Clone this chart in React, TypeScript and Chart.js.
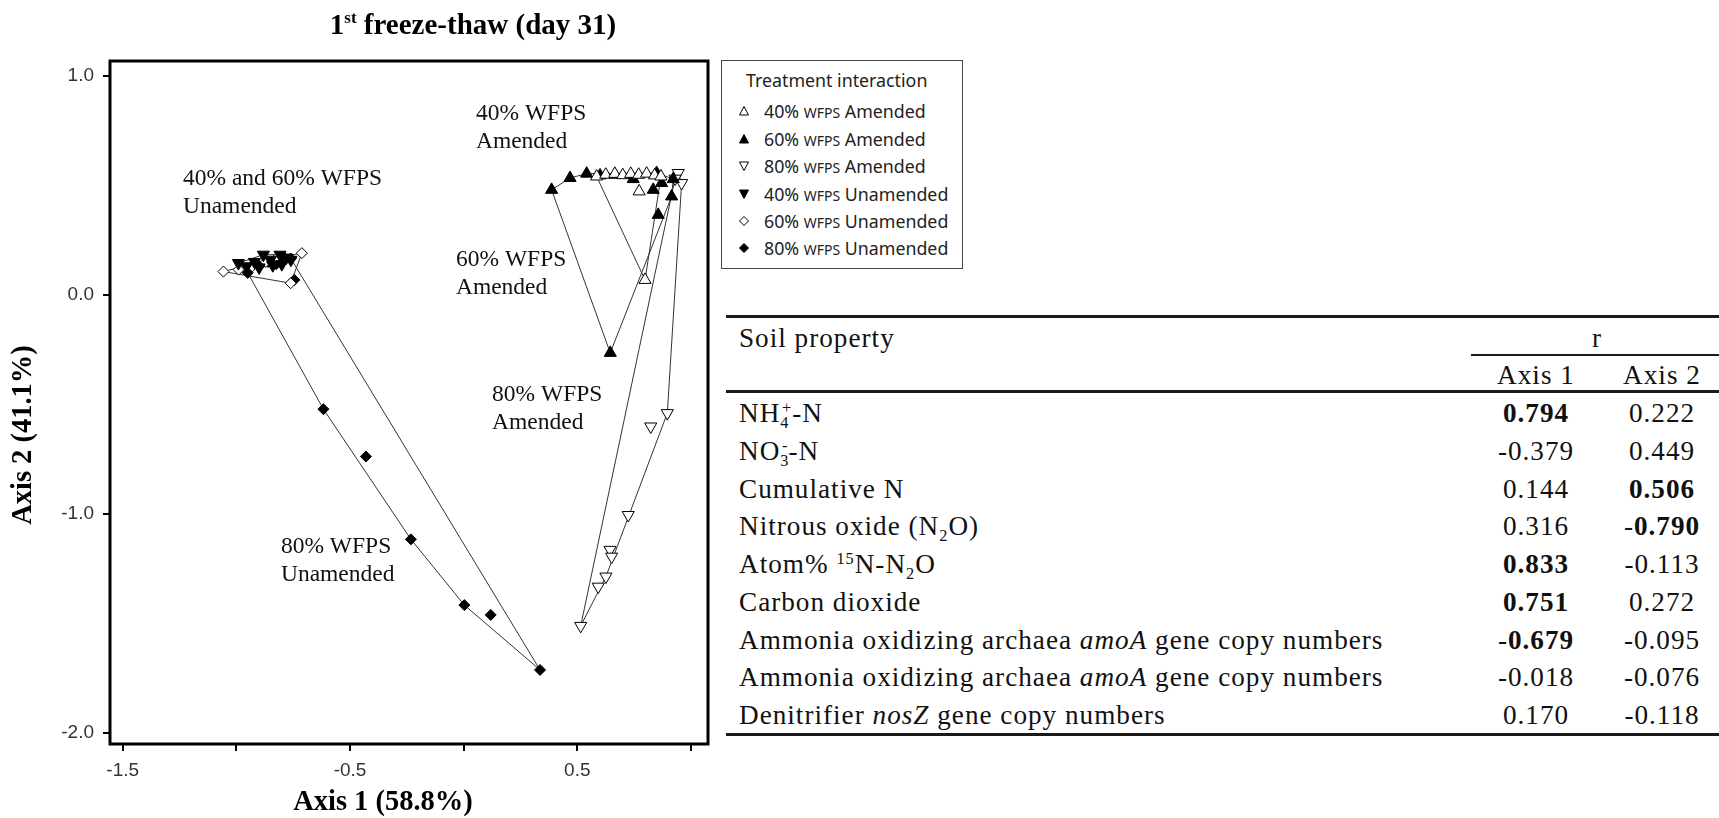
import React, { useEffect, useRef } from 'react';
import { Chart, registerables } from 'chart.js';

Chart.register(...registerables);

// NMS ordination scores (Axis 1, Axis 2) for each treatment group
const X_40A = [0.585, 0.625, 0.665, 0.700, 0.735, 0.770, 0.805, 0.840, 0.868, 0.772, 0.798];
const Y_40A = [0.540, 0.548, 0.552, 0.546, 0.552, 0.548, 0.553, 0.545, 0.540, 0.472, 0.068];

const X_60A = [0.387, 0.468, 0.541, 0.600, 0.666, 0.746, 0.849, 0.834, 0.871, 0.922, 0.915, 0.856, 0.645];
const Y_60A = [0.479, 0.533, 0.553, 0.545, 0.548, 0.528, 0.556, 0.479, 0.510, 0.528, 0.449, 0.365, -0.265];

const X_80A = [0.944, 0.959, 0.930, 0.896, 0.823, 0.724, 0.644, 0.651, 0.626, 0.592, 0.515];
const Y_80A = [0.556, 0.510, 0.530, -0.540, -0.601, -1.005, -1.164, -1.195, -1.286, -1.332, -1.511];

const X_40U = [-0.991, -0.955, -0.920, -0.881, -0.850, -0.808, -0.780, -0.760, -0.900, -0.840, -0.800];
const Y_40U = [0.145, 0.130, 0.150, 0.183, 0.160, 0.183, 0.170, 0.160, 0.125, 0.135, 0.140];

const X_60U = [-1.057, -0.990, -0.930, -0.870, -0.820, -0.712, -0.761];
const Y_60U = [0.106, 0.115, 0.130, 0.150, 0.170, 0.190, 0.053];

const X_80U = [-0.950, -0.900, -0.860, -0.825, -0.790, -0.760, -0.745, -0.617, -0.430, -0.232, 0.003, 0.119, 0.336];
const Y_80U = [0.100, 0.130, 0.150, 0.140, 0.170, 0.165, 0.068, -0.522, -0.738, -1.116, -1.416, -1.461, -1.712];

const X_TICKS = [-1.5, -1.0, -0.5, 0.0, 0.5, 1.0];
const X_TICK_LABELS = ['-1.5', '', '-0.5', '', '0.5', ''];
const Y_TICKS = [1.0, 0.0, -1.0, -2.0];
const Y_TICK_LABELS = ['1.0', '0.0', '-1.0', '-2.0'];

const GROUP_MOISTURE = ['40%', '60%', '80%', '40%', '60%', '80%'];
const GROUP_TREATMENT = ['Amended', 'Amended', 'Amended', 'Unamended', 'Unamended', 'Unamended'];

// Correlations of soil properties with the ordination axes
const AXIS1_R = [0.794, -0.379, 0.144, 0.316, 0.833, 0.751, -0.679, -0.018, 0.170];
const AXIS2_R = [0.222, 0.449, 0.506, -0.790, -0.113, 0.272, -0.095, -0.076, -0.118];
const AXIS1_BOLD = [true, false, false, false, true, true, true, false, false];
const AXIS2_BOLD = [false, false, true, true, false, false, false, false, false];

type Seg = [string, string?];
const SOIL_PROPERTIES: Seg[][] = [
  [['NH'], ['4', 'sub'], ['+', 'sup'], ['-N']],
  [['NO'], ['3', 'sub'], ['-', 'sup'], ['-N']],
  [['Cumulative N']],
  [['Nitrous oxide (N'], ['2', 'sub'], ['O)']],
  [['Atom% '], ['15', 'sup'], ['N-N'], ['2', 'sub'], ['O']],
  [['Carbon dioxide']],
  [['Ammonia oxidizing archaea '], ['amoA', 'i'], [' gene copy numbers']],
  [['Ammonia oxidizing archaea '], ['amoA', 'i'], [' gene copy numbers']],
  [['Denitrifier '], ['nosZ', 'i'], [' gene copy numbers']],
];

// Group captions placed in data units
const CAPTIONS = [
  { lines: ['40% and 60% WFPS', 'Unamended'], x: -1.235, y: 0.53 },
  { lines: ['40% WFPS', 'Amended'], x: 0.054, y: 0.824 },
  { lines: ['60% WFPS', 'Amended'], x: -0.034, y: 0.16 },
  { lines: ['80% WFPS', 'Amended'], x: 0.125, y: -0.457 },
  { lines: ['80% WFPS', 'Unamended'], x: -0.804, y: -1.151 },
];

const SERIF = '"Liberation Serif", "Times New Roman", serif';
const SANS = '"Liberation Sans", Arial, sans-serif';

type Pt = { x: number; y: number };

function toPoints(xs: number[], ys: number[]): Pt[] {
  return xs.map((x, i) => ({ x, y: ys[i] }));
}

// Closed convex hull (monotone chain) around one group's points
function convexHull(xs: number[], ys: number[]): Pt[] {
  const pts = toPoints(xs, ys).sort((a, b) => a.x - b.x || a.y - b.y);
  const cross = (o: Pt, a: Pt, b: Pt) => (a.x - o.x) * (b.y - o.y) - (a.y - o.y) * (b.x - o.x);
  const lower: Pt[] = [];
  for (const p of pts) {
    while (lower.length >= 2 && cross(lower[lower.length - 2], lower[lower.length - 1], p) <= 0) lower.pop();
    lower.push(p);
  }
  const upper: Pt[] = [];
  for (const p of pts.slice().reverse()) {
    while (upper.length >= 2 && cross(upper[upper.length - 2], upper[upper.length - 1], p) <= 0) upper.pop();
    upper.push(p);
  }
  lower.pop();
  upper.pop();
  const h = lower.concat(upper);
  h.push(h[0]);
  return h;
}

const GROUPS = [
  { xs: X_40A, ys: Y_40A, style: 'triangle', rot: 0, fill: '#fff', r: 7 },
  { xs: X_60A, ys: Y_60A, style: 'triangle', rot: 0, fill: '#000', r: 7 },
  { xs: X_80A, ys: Y_80A, style: 'triangle', rot: 180, fill: '#fff', r: 7 },
  { xs: X_40U, ys: Y_40U, style: 'triangle', rot: 180, fill: '#000', r: 7 },
  { xs: X_60U, ys: Y_60U, style: 'rectRot', rot: 0, fill: '#fff', r: 5.5 },
  { xs: X_80U, ys: Y_80U, style: 'rectRot', rot: 0, fill: '#000', r: 5.5 },
];

const decorPlugin = {
  id: 'decor',
  afterDraw(chart: any) {
    const { ctx, chartArea: a, scales } = chart;
    ctx.save();
    // plot frame
    ctx.strokeStyle = '#000';
    ctx.lineWidth = 3;
    ctx.strokeRect(a.left, a.top, a.right - a.left, a.bottom - a.top);

    // group captions
    ctx.fillStyle = '#111';
    ctx.font = `23.5px ${SERIF}`;
    ctx.textAlign = 'left';
    ctx.textBaseline = 'middle';
    for (const c of CAPTIONS) {
      const px = scales.x.getPixelForValue(c.x);
      const py = scales.y.getPixelForValue(c.y);
      c.lines.forEach((t, i) => ctx.fillText(t, px, py + i * 28));
    }

    // title with superscript ordinal
    const tcx = a.left + 363;
    const tby = 34;
    const big = `bold 29px ${SERIF}`;
    const small = `bold 17px ${SERIF}`;
    ctx.textBaseline = 'alphabetic';
    ctx.fillStyle = '#000';
    ctx.font = big;
    const w1 = ctx.measureText('1').width;
    const w3 = ctx.measureText(' freeze-thaw (day 31)').width;
    ctx.font = small;
    const w2 = ctx.measureText('st').width;
    let tx = tcx - (w1 + w2 + w3) / 2;
    ctx.font = big;
    ctx.fillText('1', tx, tby);
    tx += w1;
    ctx.font = small;
    ctx.fillText('st', tx, tby - 11);
    tx += w2;
    ctx.font = big;
    ctx.fillText(' freeze-thaw (day 31)', tx, tby);

    // axis titles
    ctx.font = `bold 28.5px ${SERIF}`;
    ctx.textAlign = 'center';
    ctx.textBaseline = 'middle';
    ctx.fillText('Axis 1 (58.8%)', a.left + 273, a.bottom + 59);
    ctx.save();
    ctx.translate(a.left - 86, a.top + 374);
    ctx.rotate(-Math.PI / 2);
    ctx.fillText('Axis 2 (41.1%)', 0, 0);
    ctx.restore();
    ctx.restore();
  },
};

function OrdinationChart() {
  const ref = useRef<HTMLCanvasElement>(null);
  useEffect(() => {
    if (!ref.current) return;
    const datasets: any[] = [];
    GROUPS.forEach((g, i) => {
      datasets.push({
        label: `${GROUP_MOISTURE[i]} WFPS ${GROUP_TREATMENT[i]}`,
        data: toPoints(g.xs, g.ys),
        pointStyle: g.style,
        rotation: g.rot,
        pointRadius: g.r,
        backgroundColor: g.fill,
        borderColor: '#000',
        borderWidth: 1,
        showLine: false,
        order: 1,
      });
    });
    GROUPS.forEach((g) => {
      datasets.push({
        data: convexHull(g.xs, g.ys),
        showLine: true,
        pointRadius: 0,
        borderColor: '#333',
        borderWidth: 1,
        fill: false,
        tension: 0,
        order: 2,
      });
    });
    const tickFont = { family: SANS, size: 19 };
    const grid = { drawOnChartArea: false, drawTicks: true, tickLength: 7, color: '#000', lineWidth: 2 };
    const chart = new Chart(ref.current, {
      type: 'scatter',
      data: { datasets },
      options: {
        animation: false,
        responsive: false,
        events: [],
        layout: { padding: { left: 10, top: 61, right: 12, bottom: 24 } },
        plugins: { legend: { display: false }, tooltip: { enabled: false }, title: { display: false } },
        scales: {
          x: {
            type: 'linear',
            min: -1.556,
            max: 1.075,
            grid,
            border: { display: false },
            afterBuildTicks: (s: any) => { s.ticks = X_TICKS.map((v) => ({ value: v })); },
            afterFit: (s: any) => { s.height = 50; },
            ticks: {
              font: tickFont,
              color: '#333',
              padding: 8,
              maxRotation: 0,
              autoSkip: false,
              callback: (v: any) => { const i = X_TICKS.indexOf(Number(v)); return i >= 0 ? X_TICK_LABELS[i] : ''; },
            },
          },
          y: {
            type: 'linear',
            min: -2.05,
            max: 1.067,
            grid,
            border: { display: false },
            afterBuildTicks: (s: any) => { s.ticks = Y_TICKS.map((v) => ({ value: v })); },
            afterFit: (s: any) => { s.width = 100; },
            ticks: {
              font: tickFont,
              color: '#333',
              padding: 9,
              autoSkip: false,
              callback: (v: any) => { const i = Y_TICKS.indexOf(Number(v)); return i >= 0 ? Y_TICK_LABELS[i] : ''; },
            },
          },
        },
      } as any,
      plugins: [decorPlugin],
    });
    return () => chart.destroy();
  }, []);
  return (
    <canvas ref={ref} width={720} height={818} style={{ position: 'absolute', left: 0, top: 0, width: 720, height: 818 }} />
  );
}

function Marker({ idx }: { idx: number }) {
  const g = GROUPS[idx];
  let pts = '';
  if (g.style === 'rectRot') pts = '6,1.5 10.5,6 6,10.5 1.5,6';
  else if (g.rot === 180) pts = '1.5,2 10.5,2 6,10.5';
  else pts = '6,1.5 10.5,10 1.5,10';
  return (
    <svg width={12} height={12} style={{ display: 'block' }}>
      <polygon points={pts} fill={g.fill} stroke="#000" strokeWidth={1} />
    </svg>
  );
}

const LEGEND_ROWS_Y = [50, 78, 105, 133, 160, 187];

function LegendBox() {
  return (
    <div
      style={{
        position: 'absolute', left: 721, top: 60, width: 240, height: 207,
        border: '1px solid #444', background: '#fff', fontFamily: '"Noto Sans", "Open Sans", sans-serif', color: '#222',
      }}
    >
      <div style={{ position: 'absolute', left: 24, top: 19 - 12, height: 24, lineHeight: '24px', fontSize: 17.8, whiteSpace: 'nowrap' }}>
        Treatment interaction
      </div>
      {GROUP_MOISTURE.map((m, i) => (
        <React.Fragment key={i}>
          <div style={{ position: 'absolute', left: 16, top: LEGEND_ROWS_Y[i] - 6 }}>
            <Marker idx={i} />
          </div>
          <div style={{ position: 'absolute', left: 42, top: LEGEND_ROWS_Y[i] - 12, height: 24, lineHeight: '24px', fontSize: 17.8, whiteSpace: 'nowrap' }}>
            {m} <span style={{ fontSize: 14 }}>WFPS</span> {GROUP_TREATMENT[i]}
          </div>
        </React.Fragment>
      ))}
    </div>
  );
}

function Rich({ segs }: { segs: Seg[] }) {
  return (
    <>
      {segs.map(([t, k], i) => {
        if (k === 'sub') return <span key={i} style={{ fontSize: '0.6em', position: 'relative', top: '0.35em' }}>{t}</span>;
        if (k === 'sup') {
          const prevSub = i > 0 && segs[i - 1][1] === 'sub';
          return (
            <span key={i} style={{ fontSize: '0.6em', position: 'relative', top: '-0.55em', marginLeft: prevSub ? '-0.45em' : 0 }}>{t}</span>
          );
        }
        if (k === 'i') return <i key={i}>{t}</i>;
        return <span key={i}>{t}</span>;
      })}
    </>
  );
}

function RValue({ v, bold }: { v: number; bold: boolean }) {
  const neg = v < 0;
  const body = Math.abs(v).toFixed(3);
  return (
    <>
      {neg ? '-' : ''}
      {bold ? <b>{body}</b> : body}
    </>
  );
}

const ROW_TOP = 413.3;
const ROW_STEP = 37.7;
const COL1_X = 1536;
const COL2_X = 1662;

function CorrelationTable() {
  const text: React.CSSProperties = {
    position: 'absolute', height: 36, lineHeight: '36px', fontSize: 27.2, letterSpacing: '1px', whiteSpace: 'nowrap',
  };
  const rule = (top: number, left: number, h: number): React.CSSProperties => ({
    position: 'absolute', top, left, right: 0, height: h, background: '#1a1a1a',
  });
  return (
    <div style={{ position: 'absolute', left: 0, top: 0, width: 1719, height: 818, fontFamily: SERIF, color: '#111' }}>
      <div style={rule(315, 726, 3)} />
      <div style={{ ...text, left: 739, top: 338 - 18 }}>Soil property</div>
      <div style={{ ...text, left: 1597 - 30, width: 60, textAlign: 'center', top: 338 - 18 }}>r</div>
      <div style={rule(354, 1471, 2)} />
      <div style={{ ...text, left: COL1_X - 60, width: 120, textAlign: 'center', top: 375 - 18 }}>Axis 1</div>
      <div style={{ ...text, left: COL2_X - 60, width: 120, textAlign: 'center', top: 375 - 18 }}>Axis 2</div>
      <div style={rule(390, 726, 3)} />
      {SOIL_PROPERTIES.map((segs, i) => {
        const cy = ROW_TOP + i * ROW_STEP;
        return (
          <React.Fragment key={i}>
            <div style={{ ...text, left: 739, top: cy - 18 }}><Rich segs={segs} /></div>
            <div style={{ ...text, left: COL1_X - 60, width: 120, textAlign: 'center', top: cy - 18 }}>
              <RValue v={AXIS1_R[i]} bold={AXIS1_BOLD[i]} />
            </div>
            <div style={{ ...text, left: COL2_X - 60, width: 120, textAlign: 'center', top: cy - 18 }}>
              <RValue v={AXIS2_R[i]} bold={AXIS2_BOLD[i]} />
            </div>
          </React.Fragment>
        );
      })}
      <div style={rule(733, 726, 2.5)} />
    </div>
  );
}

export default function App() {
  return (
    <div style={{ position: 'absolute', left: 0, top: 0, width: 1719, height: 818, overflow: 'hidden', background: '#fff' }}>
      <CorrelationTable />
      <OrdinationChart />
      <LegendBox />
    </div>
  );
}
